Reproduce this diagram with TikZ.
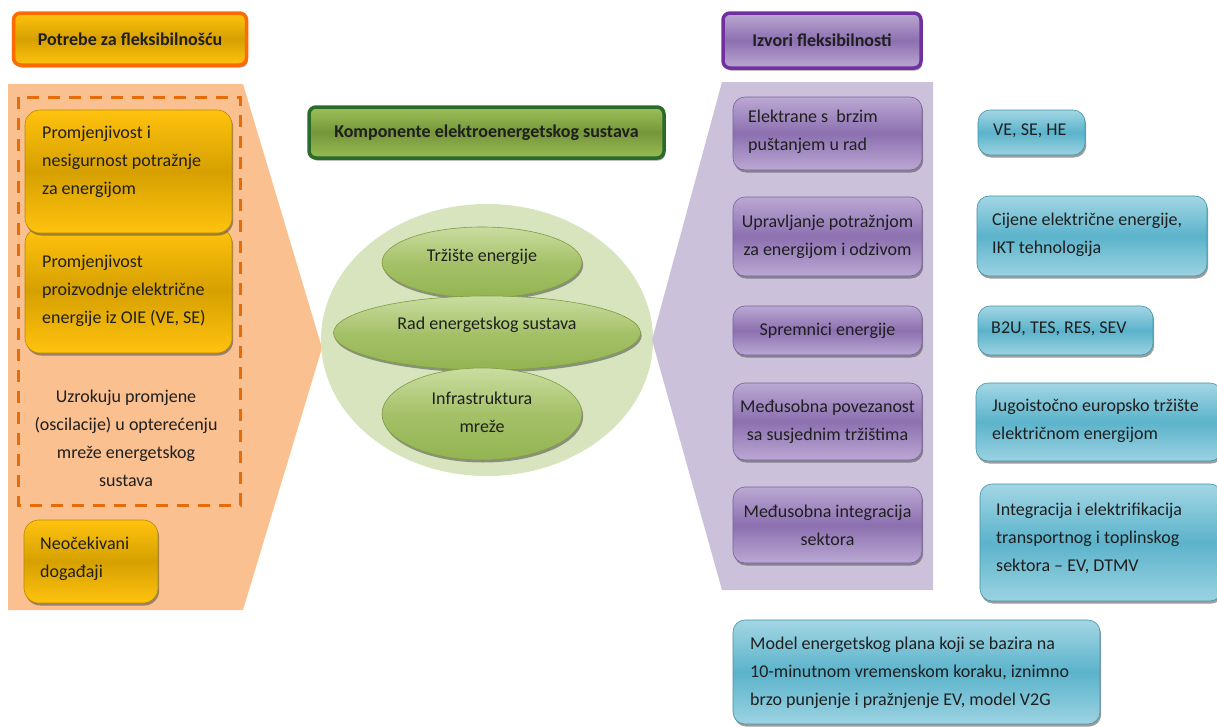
\documentclass[tikz,border=0pt]{standalone}
\usepackage{fontspec}
\setmainfont{Carlito}
\usetikzlibrary{shadows,shapes.geometric}
\definecolor{peach}{HTML}{FAC090}
\definecolor{dashor}{HTML}{E46C0A}
\definecolor{goldT}{HTML}{FFC20E}
\definecolor{goldM}{HTML}{D6A000}
\definecolor{goldD}{HTML}{B88A00}
\definecolor{orbord}{HTML}{FF6A00}
\definecolor{grbord}{HTML}{2A6A2A}
\definecolor{grT}{HTML}{9CC058}
\definecolor{grM}{HTML}{76963A}
\definecolor{bigell}{HTML}{D7E4BD}
\definecolor{elT}{HTML}{C9DDA0}
\definecolor{elM}{HTML}{A5C168}
\definecolor{elB}{HTML}{93B452}
\definecolor{elD}{HTML}{7E9C42}
\definecolor{pubord}{HTML}{7030A0}
\definecolor{puT}{HTML}{BBA8D3}
\definecolor{puM}{HTML}{8C70B0}
\definecolor{puD}{HTML}{7A5F9E}
\definecolor{pubg}{HTML}{CCC1DA}
\definecolor{blT}{HTML}{A3D6E4}
\definecolor{blM}{HTML}{5BB3CB}
\definecolor{blD}{HTML}{3F93AA}
\begin{document}
\begin{tikzpicture}[x=1pt,y=-1pt,
  every node/.style={font=\fontsize{18}{28}\selectfont, text=black!88},
  shad/.style={drop shadow={shadow xshift=1.2pt,shadow yshift=-2.5pt,fill=black!70,opacity=0.55}},
  goldbox/.style={rectangle, rounded corners=15pt, draw=goldD, line width=0.6pt,
     top color=goldT, bottom color=goldT, middle color=goldM, shad, inner sep=0pt},
  purbox/.style={rectangle, rounded corners=12pt, draw=puD, line width=0.6pt,
     top color=puT, bottom color=puT, middle color=puM, shad, inner sep=0pt,
     minimum width=189pt, align=center},
  bluebox/.style={rectangle, rounded corners=12pt, draw=blD, line width=0.6pt,
     top color=blT, bottom color=blT!90!blM, middle color=blM, shad, inner sep=0pt},
  grell/.style={ellipse, draw=elD, line width=0.6pt, top color=elT, bottom color=elB,
     middle color=elM, shad, inner sep=0pt},
  txt/.style={anchor=west, align=left, inner sep=0pt},
  hdr/.style={rectangle, rounded corners=7pt, line width=3.5pt, inner sep=0pt,
     font=\fontsize{18}{22}\selectfont\bfseries, shad},
]
\clip (0,0) rectangle (1217,726);
\fill[white] (0,0) rectangle (1217,726);

% ---------- left part ----------
\node[hdr, draw=orbord, top color=goldT, bottom color=goldT, middle color=goldM,
  minimum width=233pt, minimum height=52pt] (tl) at (130,39) {Potrebe za fleksibilnošću};
\fill[peach] (8,84) -- (243,84) -- (322,348) -- (243,610) -- (8,610) -- cycle;
\draw[dashor, line width=3pt, dash pattern=on 12pt off 9pt] (18,97) rectangle (240,505);

\node[goldbox, minimum width=207pt, minimum height=125pt] (b2) at (128.5,290.5) {};
\node[goldbox, minimum width=207pt, minimum height=123pt] (b1) at (128.5,171.5) {};
\node[txt] (b1t) at (42,162) {Promjenjivost i\\nesigurnost potražnje\\za energijom};
\node[txt] (b2t) at (42,291) {Promjenjivost\\proizvodnje električne\\energije iz OIE (VE, SE)};
\node[align=center, inner sep=0pt] (uz) at (126,438) {Uzrokuju promjene\\(oscilacije) u opterećenju\\mreže energetskog\\sustava};
\node[goldbox, minimum width=134pt, minimum height=83pt] (b3) at (91,561.5) {};
\node[txt] (b3t) at (40,559) {Neočekivani\\događaji};

% ---------- centre ----------
\node[hdr, draw=grbord, top color=grT, bottom color=grT!90!grM, middle color=grM,
  minimum width=355pt, minimum height=51pt] (tc) at (486.5,132.5) {Komponente elektroenergetskog sustava};
\node[ellipse, fill=bigell, minimum width=332pt, minimum height=272pt, inner sep=0pt] (big) at (487,340) {};
\node[grell, minimum width=200pt, minimum height=71pt] (e1) at (482,262.5) {};
\node[inner sep=0pt] (e1t) at (482,257) {Tržište energije};
\node[grell, minimum width=307pt, minimum height=74pt] (e2) at (487,333) {};
\node[inner sep=0pt] (e2t) at (487,325) {Rad energetskog sustava};
\node[grell, minimum width=200pt, minimum height=92pt] (e3) at (482,414) {};
\node[align=center, inner sep=0pt] (e3t) at (482,412) {Infrastruktura\\mreže};

% ---------- right part ----------
\node[hdr, draw=pubord, top color=puT, bottom color=puT, middle color=puM,
  minimum width=198pt, minimum height=55pt] (tr) at (822,40.5) {Izvori fleksibilnosti};
\fill[pubg] (722,82) -- (933,82) -- (933,590) -- (722,590) -- (652,340) -- cycle;

\node[purbox, minimum height=73pt] (p1) at (827.5,133.5) {};
\node[txt] (p1t) at (748,132) {Elektrane s\ \ brzim\\puštanjem u rad};
\node[purbox, minimum height=79pt] (p2) at (827.5,236.5) {Upravljanje potražnjom\\za energijom i odzivom};
\node[purbox, minimum height=49pt] (p3) at (827.5,330.5) {Spremnici energije};
\node[purbox, minimum height=77pt] (p4) at (827.5,421.5) {Međusobna povezanost\\sa susjednim tržištima};
\node[purbox, minimum height=76pt] (p5) at (827.5,525) {Međusobna integracija\\sektora};

\node[bluebox, minimum width=107pt, minimum height=45pt] (c1) at (1031.5,132.5) {};
\node[txt] (c1t) at (993,131) {VE, SE, HE};
\node[bluebox, minimum width=230pt, minimum height=80pt] (c2) at (1092,236) {};
\node[txt] (c2t) at (992,235) {Cijene električne energije,\\IKT tehnologija};
\node[bluebox, minimum width=175pt, minimum height=49pt] (c3) at (1065.5,330.5) {};
\node[txt] (c3t) at (991,329) {B2U, TES, RES, SEV};
\node[bluebox, minimum width=246pt, minimum height=78pt] (c4) at (1099,422) {};
\node[txt] (c4t) at (992,421) {Jugoistočno europsko tržište\\električnom energijom};
\node[bluebox, minimum width=242pt, minimum height=117pt] (c5) at (1101,542.5) {};
\node[txt] (c5t) at (996,538) {Integracija i elektrifikacija\\transportnog i toplinskog\\sektora -- EV, DTMV};
\node[bluebox, minimum width=367pt, minimum height=104pt] (c6) at (916.5,672) {};
\node[txt] (c6t) at (750,673) {Model energetskog plana koji se bazira na\\10-minutnom vremenskom koraku, iznimno\\brzo punjenje i pražnjenje EV, model V2G};
\end{tikzpicture}
\end{document}
